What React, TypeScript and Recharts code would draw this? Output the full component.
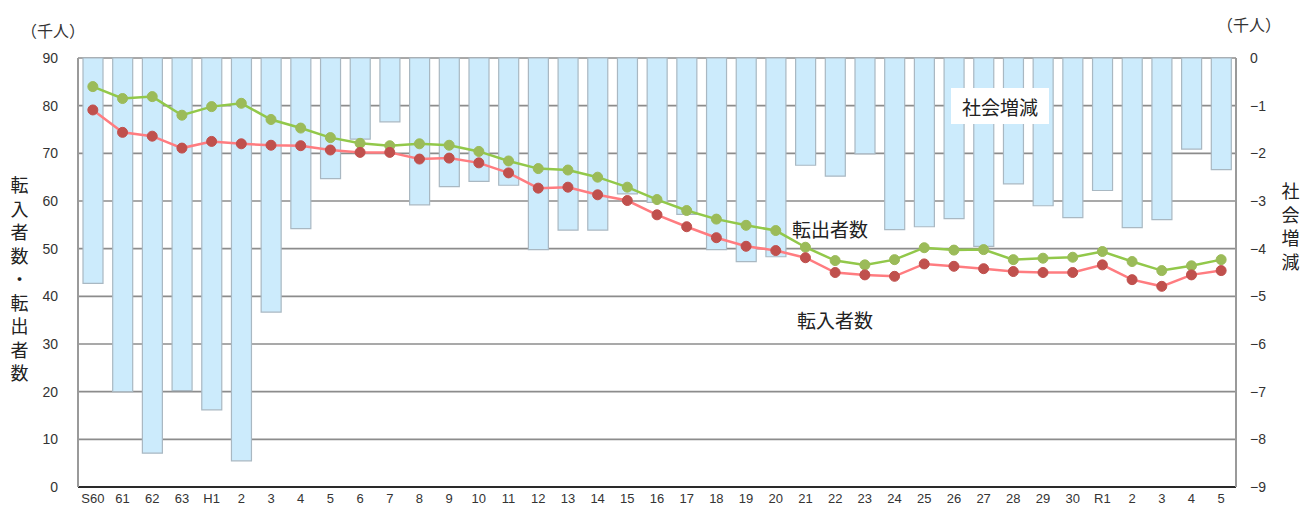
import React from "react";
import { ComposedChart, Bar, Line, XAxis, YAxis, CartesianGrid } from "recharts";

// 年度ラベル（S60〜R5）
const years = [
  "S60", "61", "62", "63", "H1", "2", "3", "4", "5", "6", "7", "8", "9", "10",
  "11", "12", "13", "14", "15", "16", "17", "18", "19", "20", "21", "22", "23",
  "24", "25", "26", "27", "28", "29", "30", "R1", "2", "3", "4", "5",
];

// 転出者数（千人）
const outMoves = [
  84.0, 81.5, 81.9, 78.0, 79.8, 80.5, 77.1, 75.3, 73.3, 72.1, 71.6, 72.0, 71.7,
  70.4, 68.4, 66.8, 66.5, 65.0, 62.9, 60.3, 58.0, 56.2, 54.9, 53.8, 50.3, 47.5,
  46.6, 47.7, 50.2, 49.7, 49.8, 47.7, 48.0, 48.2, 49.4, 47.3, 45.4, 46.4, 47.7,
];

// 転入者数（千人）
const inMoves = [
  79.1, 74.4, 73.6, 71.1, 72.5, 72.0, 71.7, 71.6, 70.7, 70.2, 70.2, 68.8, 69.0,
  68.0, 65.9, 62.7, 62.9, 61.3, 60.1, 57.1, 54.6, 52.3, 50.5, 49.6, 48.1, 45.0,
  44.5, 44.2, 46.8, 46.3, 45.8, 45.2, 45.0, 45.0, 46.6, 43.5, 42.1, 44.5, 45.4,
];

// 社会増減（千人）
const netChange = [
  -4.73, -7.0, -8.29, -6.98, -7.38, -8.45, -5.33, -3.58, -2.53, -1.7, -1.34,
  -3.08, -2.7, -2.59, -2.67, -4.02, -3.61, -3.61, -2.85, -3.03, -3.28, -4.02,
  -4.27, -4.17, -2.25, -2.48, -2.01, -3.6, -3.54, -3.37, -3.95, -2.64, -3.1,
  -3.35, -2.78, -3.56, -3.39, -1.91, -2.34,
];

const leftTicks = [0, 10, 20, 30, 40, 50, 60, 70, 80, 90];
const rightTicks = [-9, -8, -7, -6, -5, -4, -3, -2, -1, 0];

const data = years.map((year, i) => ({
  year,
  out: outMoves[i],
  in: inMoves[i],
  net: netChange[i],
}));

const jp = '"Noto Sans CJK JP", "Noto Sans", sans-serif';
const num = '"Liberation Sans", Arial, sans-serif';

const stack = (chars: string, style: React.CSSProperties) => (
  <div style={{ position: "absolute", display: "flex", flexDirection: "column", alignItems: "center", fontFamily: jp, fontSize: 18, lineHeight: "23.5px", color: "#222", ...style }}>
    {chars.split("").map((c, i) => (
      <span key={i} style={{ height: 23.5 }}>{c}</span>
    ))}
  </div>
);

export default function App() {
  return (
    <div style={{ position: "absolute", left: 0, top: 0, width: 1303, height: 514, background: "#fff" }}>
      <ComposedChart
        width={1303}
        height={514}
        data={data}
        margin={{ top: 58, right: 0, bottom: 0, left: 0 }}
        barSize={20}
      >
        <CartesianGrid vertical={false} stroke="#8c8c8c" strokeWidth={1.6} yAxisId="left" />
        <XAxis
          dataKey="year"
          height={27}
          axisLine={{ stroke: "#000", strokeWidth: 1.5 }}
          tickLine={false}
          tickSize={0}
          tickMargin={7}
          interval={0}
          tick={{ fontSize: 13, fontFamily: num, fill: "#333" }}
        />
        <YAxis
          yAxisId="left"
          width={78}
          domain={[0, 90]}
          ticks={leftTicks}
          interval={0}
          axisLine={{ stroke: "#9a9a9a", strokeWidth: 2 }}
          tickLine={false}
          tickSize={0}
          tickMargin={20}
          tick={{ fontSize: 14, fontFamily: num, fill: "#333" }}
        />
        <YAxis
          yAxisId="right"
          orientation="right"
          width={67}
          domain={[-9, 0]}
          ticks={rightTicks}
          interval={0}
          axisLine={{ stroke: "#9a9a9a", strokeWidth: 2 }}
          tickLine={false}
          tickSize={0}
          tickMargin={14}
          tickFormatter={(v: number) => String(v).replace("-", "\u2212")}
          tick={{ fontSize: 14, fontFamily: num, fill: "#333", textAnchor: "start" }}
        />
        <Bar
          yAxisId="right"
          dataKey="net"
          fill="#CCEBFC"
          stroke="#A9B8C2"
          strokeWidth={1.2}
          isAnimationActive={false}
        />
        <Line
          yAxisId="left"
          dataKey="out"
          stroke="#92C84A"
          strokeWidth={2.5}
          dot={{ r: 5, fill: "#9BBB59", stroke: "#9BBB59", strokeWidth: 1 }}
          isAnimationActive={false}
        />
        <Line
          yAxisId="left"
          dataKey="in"
          stroke="#FF7C80"
          strokeWidth={2.5}
          dot={{ r: 5, fill: "#C0504D", stroke: "#C0504D", strokeWidth: 1 }}
          isAnimationActive={false}
        />
      </ComposedChart>

      <div style={{ position: "absolute", left: 21, top: 18, fontFamily: jp, fontSize: 16, color: "#333" }}>（千人）</div>
      <div style={{ position: "absolute", left: 1217, top: 12, fontFamily: jp, fontSize: 16, color: "#333" }}>（千人）</div>

      {stack("転入者数・転出者数", { left: 9, top: 173, width: 21 })}
      {stack("社会増減", { left: 1280, top: 179, width: 21 })}

      <div style={{ position: "absolute", left: 951, top: 88, width: 98, height: 36, background: "#fff", display: "flex", alignItems: "center", justifyContent: "center", fontFamily: jp, fontSize: 19, color: "#222" }}>社会増減</div>
      <div style={{ position: "absolute", left: 792, top: 215, fontFamily: jp, fontSize: 19, color: "#222" }}>転出者数</div>
      <div style={{ position: "absolute", left: 797, top: 306, fontFamily: jp, fontSize: 19, color: "#222" }}>転入者数</div>
    </div>
  );
}
